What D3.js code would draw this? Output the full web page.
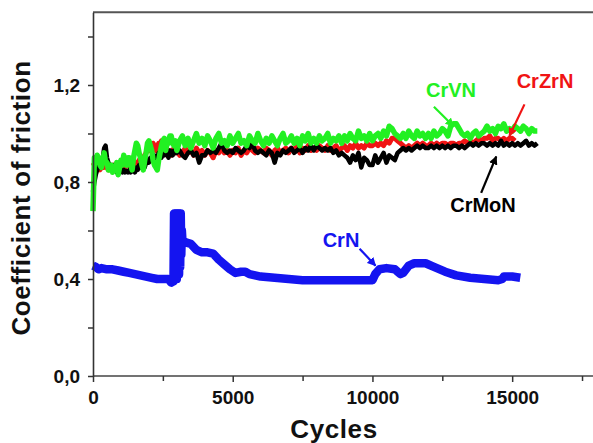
<!DOCTYPE html>
<html><head><meta charset="utf-8">
<script src="https://cdn.jsdelivr.net/npm/d3@7"></script>
<style>
html,body{margin:0;padding:0;background:#fff;}
svg{display:block;font-family:"Liberation Sans",Arial,sans-serif;font-weight:bold;}
</style></head><body>
<svg id="c" width="593" height="443"></svg>
<script>
// ---- data ----
const xTicks = [0, 5000, 10000, 15000];
const xMinor = [2500, 7500, 12500, 17500];
const yTicks = [0, 0.4, 0.8, 1.2];
const yMinor = [0.2, 0.6, 1.0, 1.4];
const yTickLabels = ["0,0", "0,4", "0,8", "1,2"];

const crnCycles = [0,100,200,300,500,700,900,1100,1300,1500,1700,1900,2100,2300,2500,2700,2800,2850,2880,2900,2920,2940,2960,2980,3000,3020,3040,3060,3080,3100,3120,3140,3160,3180,3200,3250,3350,3500,3700,3900,4100,4300,4500,4700,4900,5100,5300,5450,5600,5800,6000,6500,7000,7500,8000,8500,9000,9500,10000,10100,10250,10500,10800,11000,11100,11300,11500,11900,12200,12600,13000,13500,14000,14500,14650,14700,15000,15290];
const crnValues = [0.455,0.45,0.44,0.445,0.44,0.44,0.435,0.43,0.425,0.42,0.415,0.41,0.405,0.40,0.40,0.40,0.385,0.40,0.39,0.67,0.40,0.67,0.40,0.67,0.40,0.67,0.42,0.67,0.42,0.67,0.45,0.67,0.50,0.60,0.56,0.555,0.55,0.545,0.52,0.51,0.51,0.505,0.48,0.46,0.44,0.425,0.43,0.43,0.42,0.415,0.41,0.405,0.40,0.395,0.395,0.395,0.395,0.395,0.395,0.42,0.44,0.445,0.44,0.42,0.425,0.455,0.465,0.465,0.45,0.43,0.415,0.405,0.40,0.395,0.40,0.41,0.41,0.405];

const earlyCycles = [0,50,100,150,200,250,300,350,400,450,500,550,600,650,700,750,800,850,900,950,1000,1050,1100,1150,1200,1250,1300,1350,1400,1450,1500,1550,1600,1650,1700,1750,1800,1850,1900,1950,2000,2050,2100,2150,2200,2250,2300,2350,2400,2450,2500,2550,2600,2650,2700,2750,2800,2850,2900,2950];
const lateCycles = [3000,3100,3200,3300,3400,3500,3600,3700,3800,3900,4000,4100,4200,4300,4400,4500,4600,4700,4800,4900,5000,5100,5200,5300,5400,5500,5600,5700,5800,5900,6000,6100,6200,6300,6400,6500,6600,6700,6800,6900,7000,7100,7200,7300,7400,7500,7600,7700,7800,7900,8000,8100,8200,8300,8400,8500,8600,8700,8800,8900,9000,9100,9200,9300,9400,9500,9600,9700,9800,9900,10000,10100,10200,10300,10400,10500,10600,10700,10800,10900,11000,11100,11200,11300,11400,11500,11600,11700,11800,11900,12000,12100,12200,12300,12400,12500,12600,12700,12800,12900,13000,13100,13200,13300,13400,13500,13600,13700,13800,13900,14000,14100,14200,14300,14400,14500,14600,14700,14800,14900,15000,15100,15200,15300,15400,15500,15600,15700,15800,15900];

const crmonEarly = [0.76,0.80,0.83,0.85,0.86,0.88,0.87,0.90,0.94,0.95,0.90,0.88,0.87,0.86,0.87,0.85,0.86,0.84,0.85,0.84,0.845,0.84,0.85,0.84,0.845,0.84,0.85,0.84,0.845,0.85,0.84,0.86,0.85,0.87,0.86,0.88,0.87,0.86,0.88,0.89,0.88,0.90,0.89,0.90,0.91,0.89,0.90,0.92,0.91,0.90,0.92,0.91,0.93,0.92,0.90,0.93,0.92,0.91,0.93,0.92];
const crmonLate = [
  0.92,0.93,0.91,0.90,0.92,0.93,0.91,0.92,0.88,0.91,
  0.91,0.93,0.92,0.93,0.92,0.94,0.96,0.93,0.92,0.93,
  0.92,0.94,0.93,0.92,0.93,0.95,0.94,0.96,0.93,0.92,
  0.93,0.92,0.91,0.93,0.92,0.88,0.92,0.91,0.93,0.92,
  0.93,0.94,0.92,0.93,0.94,0.92,0.94,0.93,0.95,0.93,
  0.95,0.94,0.93,0.94,0.93,0.94,0.92,0.93,0.91,0.92,
  0.91,0.90,0.88,0.91,0.89,0.92,0.86,0.90,0.89,0.87,
  0.87,0.91,0.88,0.90,0.92,0.88,0.91,0.90,0.89,0.92,
  0.93,0.94,0.93,0.94,0.93,0.94,0.95,0.94,0.95,0.94,
  0.94,0.95,0.94,0.95,0.94,0.95,0.94,0.95,0.94,0.95,
  0.95,0.94,0.95,0.94,0.95,0.96,0.95,0.96,0.95,0.96,
  0.96,0.95,0.96,0.95,0.96,0.95,0.97,0.95,0.96,0.95,
  0.96,0.95,0.96,0.95,0.96,0.97,0.95,0.96,0.95,0.96];

const crzrnEarly = [0.88,0.87,0.86,0.85,0.86,0.85,0.86,0.87,0.86,0.87,0.86,0.85,0.86,0.85,0.86,0.87,0.86,0.87,0.86,0.87,0.87,0.86,0.87,0.86,0.88,0.87,0.87,0.86,0.87,0.88,0.88,0.87,0.88,0.89,0.88,0.89,0.90,0.91,0.92,0.94,0.95,0.93,0.94,0.96,0.95,0.93,0.94,0.96,0.95,0.97,0.95,0.93,0.92,0.91,0.93,0.92,0.91,0.93,0.94,0.92];
const crzrnLate = [
  0.93,0.91,0.92,0.94,0.92,0.93,0.91,0.94,0.92,0.93,
  0.91,0.93,0.92,0.90,0.93,0.92,0.94,0.92,0.93,0.91,
  0.93,0.92,0.94,0.91,0.93,0.92,0.94,0.93,0.92,0.94,
  0.93,0.92,0.94,0.93,0.91,0.93,0.94,0.92,0.93,0.94,
  0.92,0.94,0.93,0.95,0.92,0.94,0.93,0.95,0.93,0.94,
  0.93,0.95,0.94,0.93,0.95,0.93,0.94,0.95,0.93,0.94,
  0.95,0.93,0.95,0.94,0.96,0.94,0.95,0.94,0.96,0.95,
  0.95,0.96,0.95,0.96,0.95,0.97,0.96,0.98,0.98,0.97,
  0.96,0.95,0.94,0.95,0.94,0.95,0.96,0.95,0.96,0.95,
  0.95,0.96,0.95,0.96,0.95,0.96,0.96,0.95,0.96,0.96,
  0.95,0.96,0.96,0.97,0.96,0.97,0.96,0.97,0.98,0.97,
  0.98,0.98,0.99,0.97,0.98,0.98,0.97,0.98,0.97,0.98,
  0.98,0.97];

const crvnEarly = [0.68,0.90,0.88,0.91,0.90,0.87,0.86,0.89,0.92,0.88,0.88,0.85,0.85,0.87,0.84,0.86,0.86,0.88,0.83,0.86,0.89,0.87,0.91,0.88,0.87,0.90,0.90,0.87,0.85,0.90,0.93,0.96,0.95,0.92,0.90,0.87,0.85,0.89,0.92,0.96,0.97,0.95,0.93,0.89,0.87,0.86,0.85,0.89,0.92,0.95,0.97,0.98,0.93,0.96,0.96,0.99,0.99,0.96,0.95,0.97];
const crvnLate = [
  0.93,0.97,0.99,0.95,0.98,0.94,0.97,1.00,0.96,0.98,
  0.95,0.99,0.97,0.94,0.98,1.00,0.96,0.97,0.95,0.99,
  0.96,0.98,1.00,0.96,0.97,0.95,0.99,0.97,0.96,1.00,
  0.97,0.95,0.98,0.96,0.99,0.97,0.95,0.98,1.00,0.96,
  0.97,0.99,0.96,0.98,0.95,0.99,0.97,1.00,0.96,0.98,
  0.96,0.99,0.97,0.98,1.00,0.96,0.98,0.97,0.99,0.96,
  0.99,0.97,1.00,0.98,0.97,1.01,0.98,0.99,0.97,1.00,
  0.97,0.99,1.00,0.98,1.01,0.99,1.03,1.02,1.00,0.99,
  0.98,1.00,0.98,1.01,0.99,0.98,1.01,0.99,1.00,0.98,
  1.00,0.98,1.01,0.99,1.00,1.02,1.01,0.99,1.03,1.04,
  1.04,1.02,1.00,0.99,1.00,0.98,1.00,1.01,0.99,1.00,
  1.01,1.03,1.01,1.02,1.00,1.03,1.02,1.04,1.01,1.02,
  1.01,1.03,1.02,1.01,1.03,1.02,1.00,1.02,1.01,1.01];

const seriesNames = ["CrN","CrZrN","CrMoN","CrVN"];
const seriesColors = {CrN:"#1414f0", CrZrN:"#f01414", CrMoN:"#000000", CrVN:"#22f022"};

// ---- chart ----
const svg = d3.select("#c");
const x = d3.scaleLinear().domain([0, 18000]).range([93, 596]);
const y = d3.scaleLinear().domain([0, 1.5]).range([376, 12.25]);

const zip = (xs, ys) => ys.map((v, i) => [xs[i], v]);
const data = {
  CrN: zip(crnCycles, crnValues),
  CrZrN: zip(earlyCycles, crzrnEarly).concat(zip(lateCycles, crzrnLate)),
  CrMoN: zip(earlyCycles, crmonEarly).concat(zip(lateCycles, crmonLate)),
  CrVN: zip(earlyCycles, crvnEarly).concat(zip(lateCycles, crvnLate))
};
const widths = {CrN: 8.5, CrZrN: 5, CrMoN: 4.5, CrVN: 5.5};

const line = d3.line().x(d => x(d[0])).y(d => y(d[1]));
const drawOrder = ["CrN","CrZrN","CrMoN","CrVN"];
drawOrder.forEach(n => {
  svg.append("path").datum(data[n]).attr("d", line)
    .attr("fill","none").attr("stroke", seriesColors[n])
    .attr("stroke-width", widths[n]).attr("stroke-linejoin","round");
});

// frame top
svg.append("line").attr("x1", 93).attr("x2", 593).attr("y1", 12.25).attr("y2", 12.25)
  .attr("stroke","#555").attr("stroke-width",2);

// axes
const xAxis = d3.axisBottom(x).tickValues(xTicks).tickSize(6).tickPadding(9).tickSizeOuter(0).tickFormat(d3.format("d"));
const gx = svg.append("g").attr("transform","translate(0,376)").call(xAxis);
gx.selectAll(".tick text").attr("font-size", 19).attr("font-weight","bold").attr("fill","#111")
  .attr("font-family","Liberation Sans, Arial, sans-serif");
gx.select(".domain").attr("stroke","#444").attr("stroke-width",1.6).attr("d","M93,0H593");
gx.selectAll(".tick line").attr("stroke","#333").attr("stroke-width",1.5);
const gxm = svg.append("g").attr("transform","translate(0,376)").call(d3.axisBottom(x).tickValues(xMinor).tickSize(5).tickFormat(""));
gxm.select(".domain").remove();
gxm.selectAll(".tick line").attr("stroke","#333").attr("stroke-width",1.5);

const yAxis = d3.axisLeft(y).tickValues(yTicks).tickSize(5).tickPadding(8).tickSizeOuter(0)
  .tickFormat((d,i) => yTickLabels[i]);
const gy = svg.append("g").attr("transform","translate(93,0)").call(yAxis);
gy.selectAll(".tick text").attr("font-size", 19).attr("font-weight","bold").attr("fill","#111")
  .attr("font-family","Liberation Sans, Arial, sans-serif");
gy.select(".domain").attr("stroke","#333").attr("stroke-width",1.6);
gy.selectAll(".tick line").attr("stroke","#333").attr("stroke-width",1.5);
const gym = svg.append("g").attr("transform","translate(93,0)").call(d3.axisLeft(y).tickValues(yMinor).tickSize(5).tickFormat(""));
gym.select(".domain").remove();
gym.selectAll(".tick line").attr("stroke","#333").attr("stroke-width",1.5);

// axis titles
svg.append("text").attr("x", 334).attr("y", 438).attr("text-anchor","middle")
  .attr("font-size", 26).attr("fill","#111").style("letter-spacing","0.6px").text("Cycles");
svg.append("text").attr("transform","translate(30,198) rotate(-90)").attr("text-anchor","middle")
  .attr("font-size", 26).attr("fill","#111").style("letter-spacing","0.6px").text("Coefficient of friction");

// annotations
const defs = svg.append("defs");
seriesNames.forEach(n => {
  defs.append("marker").attr("id","ah-"+n).attr("viewBox","0 0 10 10").attr("refX",9).attr("refY",5)
    .attr("markerWidth",4).attr("markerHeight",4).attr("orient","auto")
    .attr("markerUnits","strokeWidth")
    .append("path").attr("d","M0,0L10,5L0,10Z").attr("fill", seriesColors[n]);
});
const labels = [
  {n:"CrVN", tx:451, ty:97, ax1:[12200,1.11], ax2:[12900,1.03]},
  {n:"CrZrN", tx:545, ty:88, ax1:[15440,1.12], ax2:[14900,0.99]},
  {n:"CrMoN", tx:483, ty:212, ax1:[13890,0.755], ax2:[14430,0.905]},
  {n:"CrN", tx:341, ty:247, ax1:[9540,0.525], ax2:[10110,0.455]}
];
labels.forEach(l => {
  svg.append("text").attr("x", l.tx).attr("y", l.ty).attr("text-anchor","middle")
    .attr("font-size", 20).attr("fill", seriesColors[l.n]).text(l.n);
  svg.append("line").attr("x1", x(l.ax1[0])).attr("y1", y(l.ax1[1]))
    .attr("x2", x(l.ax2[0])).attr("y2", y(l.ax2[1]))
    .attr("stroke", seriesColors[l.n]).attr("stroke-width", 2.2)
    .attr("marker-end","url(#ah-"+l.n+")");
});
</script>
</body></html>
